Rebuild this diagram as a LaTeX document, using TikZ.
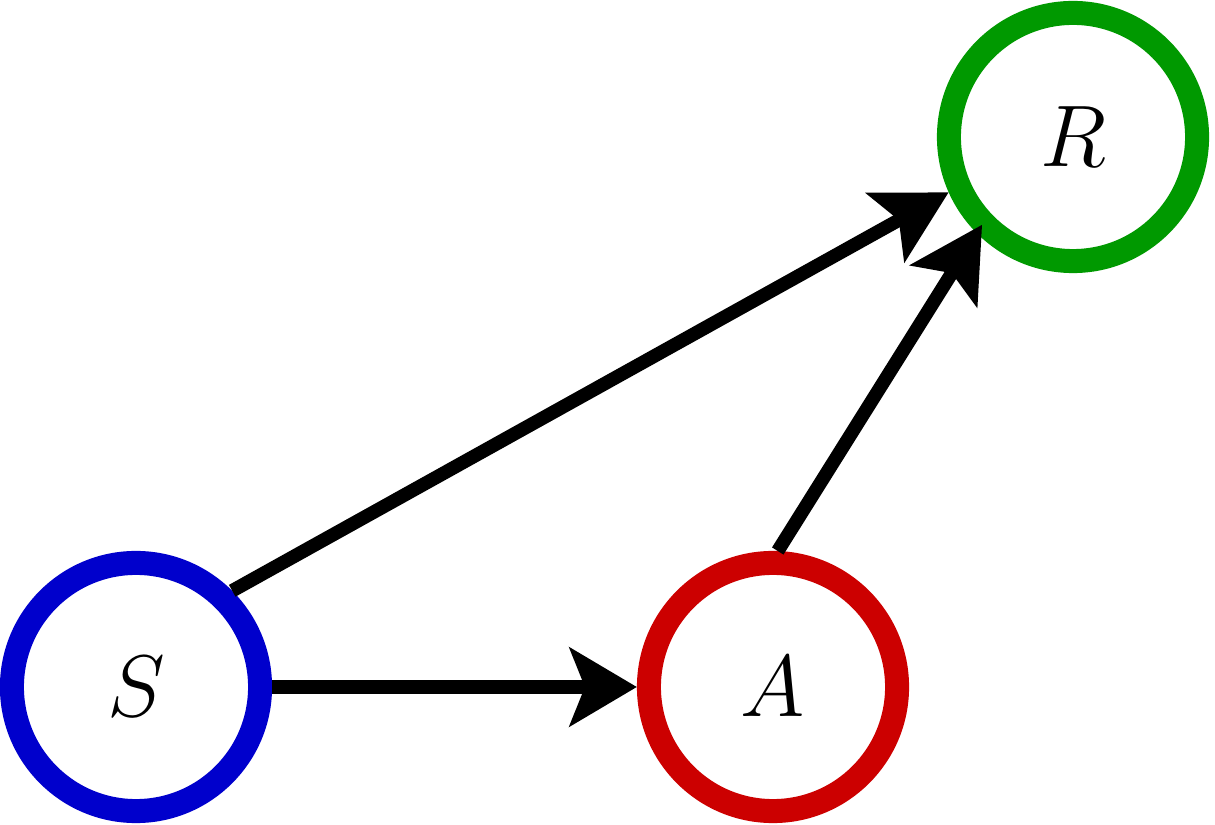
\documentclass[tikz,border=0pt]{standalone}
\usetikzlibrary{arrows.meta}
\definecolor{sblue}{HTML}{0000CC}
\definecolor{ared}{HTML}{CC0000}
\definecolor{rgreen}{HTML}{009900}
\begin{document}
\begin{tikzpicture}[x=0.01cm,y=-0.01cm,
  state/.style={circle,draw,line width=0.24cm,minimum size=2.48cm,inner sep=0pt,fill=white,font=\fontsize{23}{28}\selectfont},
  conn/.style={line width=0.135cm,-{Stealth[length=0.72cm,width=0.78cm,inset=0.15cm]}}]
\useasboundingbox (0,0) rectangle (1215,825);
\node[state,draw=sblue] (S) at (136,687) {$S$};
\node[state,draw=ared] (A) at (773,687) {$A$};
\node[state,draw=rgreen] (R) at (1073,137) {$R$};
\draw[conn,-{Stealth[length=0.67cm,width=0.78cm,inset=0.15cm]}] (S.east) -- (A.west);
\draw[conn] (S.45) -- (R.204);
\draw[conn,shorten >=-0.1cm] (A.88) -- (R.225);
\end{tikzpicture}
\end{document}
